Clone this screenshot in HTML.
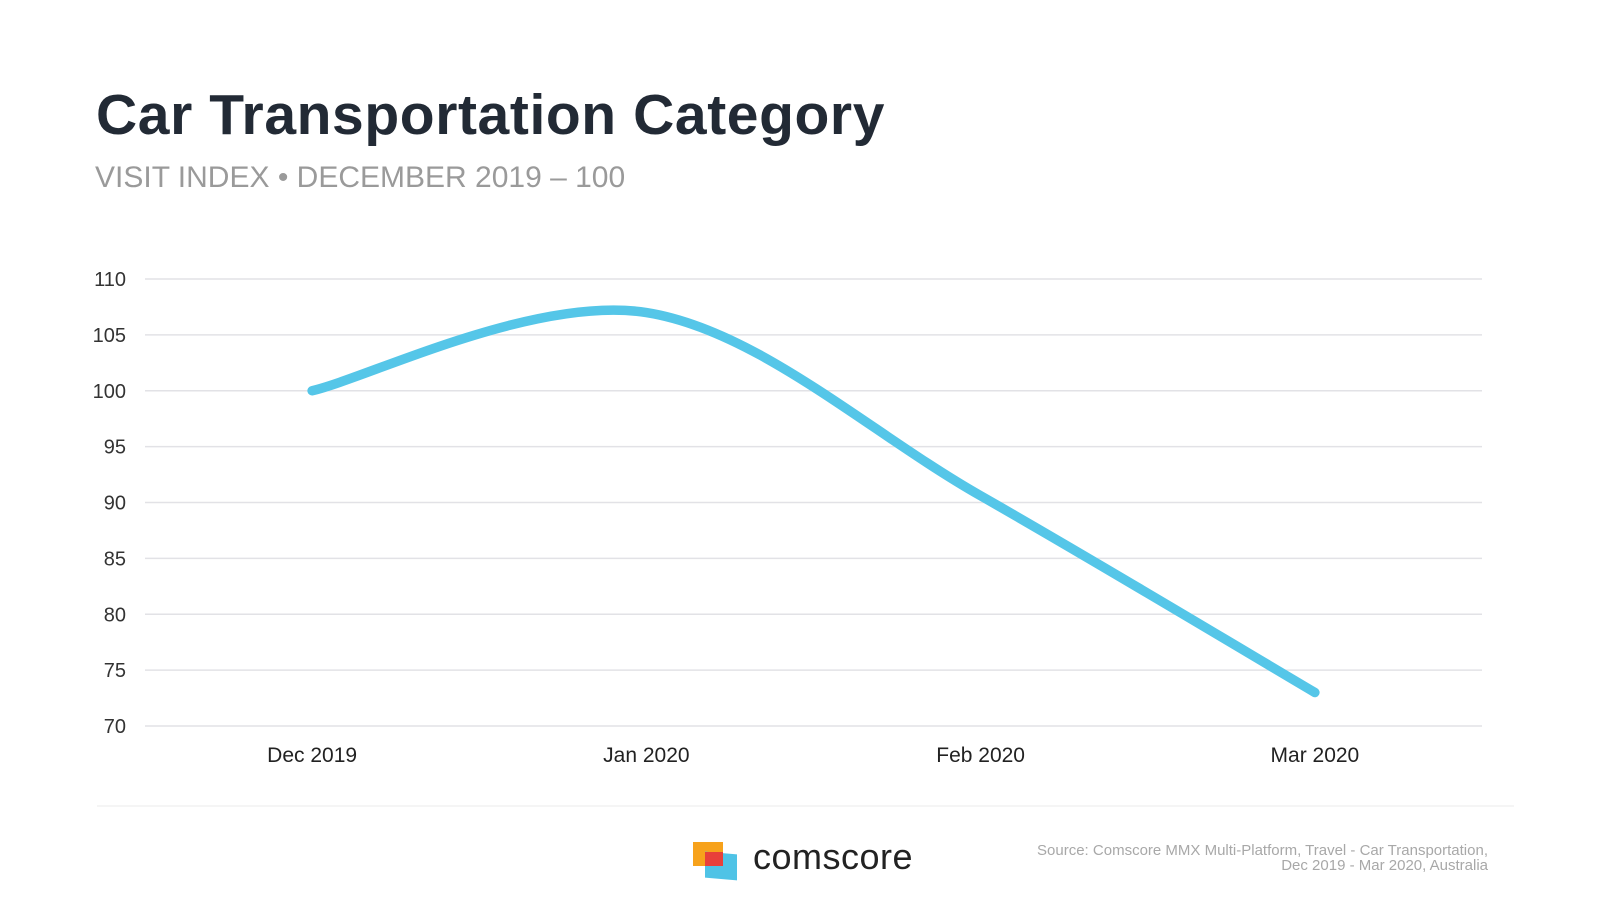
<!DOCTYPE html>
<html><head><meta charset="utf-8"><style>
body{margin:0;width:1600px;height:900px;background:#fff;font-family:"Liberation Sans",sans-serif;overflow:hidden;position:relative}
.t{position:absolute;left:96px;top:82px;font-size:57px;font-weight:bold;color:#222a35;letter-spacing:0.6px}
.s{position:absolute;left:95px;top:161px;font-size:30px;color:#9a9a9a}
.src{position:absolute;right:112px;top:843px;font-size:15px;color:#a8a8a8;text-align:right;line-height:15px}
</style></head><body>
<div class="t">Car Transportation Category</div>
<div class="s">VISIT INDEX • DECEMBER 2019 – 100</div>
<svg id="c" width="1600" height="900" style="position:absolute;left:0;top:0"></svg>
<div class="src">Source: Comscore MMX Multi-Platform, Travel - Car Transportation,<br>Dec 2019 - Mar 2020, Australia</div>
<script>
const categories=["Dec 2019","Jan 2020","Feb 2020","Mar 2020"];
const values=[100,107.0,90.6,73.0];
const yTicks=[70,75,80,85,90,95,100,105,110];
const NS="http://www.w3.org/2000/svg";
const svg=document.getElementById('c');
const x0=145,x1=1482,yTop=279,yBot=726,yMin=70,yMax=110;
const xs=i=>x0+(x1-x0)/categories.length*(i+0.5);
const ys=v=>yBot-(v-yMin)/(yMax-yMin)*(yBot-yTop);
function mk(t,a){const e=document.createElementNS(NS,t);for(const k in a)e.setAttribute(k,a[k]);svg.appendChild(e);return e;}
yTicks.forEach(v=>{
  const l=mk('line',{x1:x0,x2:x1,y1:ys(v),y2:ys(v),stroke:'#e2e2e6','stroke-width':1.5});
  
  
  const t=mk('text',{x:126,y:ys(v)+7,'text-anchor':'end','font-size':20,fill:'#333','font-family':'Liberation Sans'});
  t.textContent=v;
  
  
});
categories.forEach((c,i)=>{
  const t=mk('text',{x:xs(i),y:762,'text-anchor':'middle','font-size':21,fill:'#222','font-family':'Liberation Sans'});
  t.textContent=c;
  
  
});
const P=values.map((v,i)=>[xs(i),ys(v)]);
let d=`M${P[0][0]},${P[0][1]}`;
for(let i=0;i<P.length-1;i++){
  const p0=P[Math.max(i-1,0)],p1=P[i],p2=P[i+1],p3=P[Math.min(i+2,P.length-1)];
  const c1=[p1[0]+(p2[0]-p0[0])/6,p1[1]+(p2[1]-p0[1])/6];
  const c2=[p2[0]-(p3[0]-p1[0])/6,p2[1]-(p3[1]-p1[1])/6];
  d+=` C${c1[0]},${c1[1]} ${c2[0]},${c2[1]} ${p2[0]},${p2[1]}`;
}
const ln=mk('path',{d:d,fill:'none',stroke:'#55c6e8','stroke-width':9.5,'stroke-linecap':'round'});


const sep=mk('line',{x1:97,x2:1514,y1:806,y2:806,stroke:'#f2f2f2','stroke-width':1.5});


</script>
<div style="position:absolute;left:693px;top:840px;width:240px;height:46px">
<div style="position:absolute;left:0;top:2px;width:30px;height:24px;background:#f7a21b"></div>
<div style="position:absolute;left:12px;top:13px;width:32px;height:26px;background:#4fc3e6;transform:skewY(5deg)"></div>
<div style="position:absolute;left:12px;top:12px;width:18px;height:14px;background:#e8403a"></div>
<div style="position:absolute;left:60px;top:-4px;font-size:36px;color:#222;letter-spacing:0.5px">comscore</div>
</div>
</body></html>
